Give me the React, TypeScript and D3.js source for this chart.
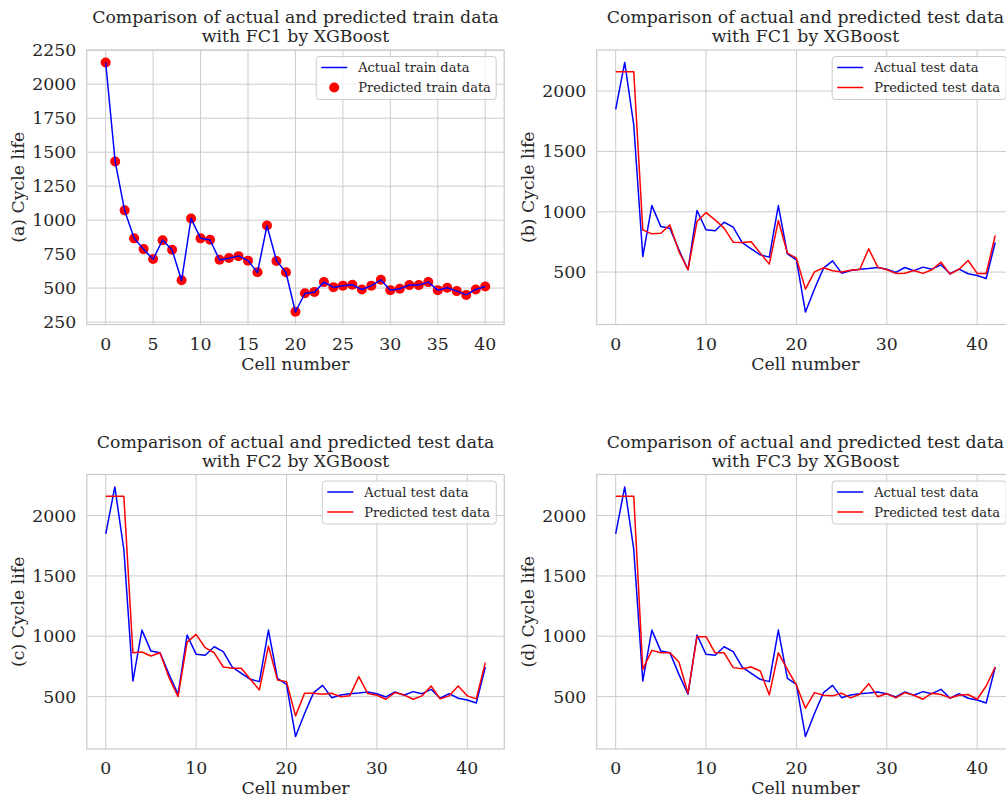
import React from 'react';
import * as d3 from 'd3';

// ---------- data ----------
const trainActual = [2160, 1430, 1070, 866, 785, 712, 854, 780, 556, 1012, 866, 854, 707, 720, 737, 702, 615, 959, 702, 615, 324, 462, 470, 544, 505, 518, 524, 490, 518, 561, 485, 495, 522, 522, 544, 485, 503, 478, 450, 490, 512];
const trainPredicted = [2160, 1432, 1072, 866, 787, 714, 852, 782, 558, 1012, 866, 856, 709, 722, 735, 702, 617, 961, 700, 617, 326, 462, 472, 544, 507, 518, 524, 490, 518, 561, 485, 495, 522, 522, 544, 485, 503, 478, 450, 490, 512];

const testActual = [1848, 2237, 1719, 629, 1051, 877, 864, 684, 519, 1010, 850, 842, 913, 872, 745, 693, 643, 624, 1051, 651, 602, 169, 360, 533, 593, 491, 513, 524, 530, 538, 524, 497, 538, 511, 541, 524, 560, 486, 524, 486, 472, 447, 745];
const predFC1 = [2160, 2160, 2160, 850, 817, 822, 891, 670, 519, 919, 993, 933, 864, 748, 745, 751, 657, 566, 927, 657, 615, 359, 502, 536, 511, 500, 516, 522, 693, 541, 519, 489, 491, 513, 489, 519, 582, 483, 524, 596, 489, 489, 803];
const predFC2 = [2160, 2160, 2160, 863, 869, 836, 863, 657, 500, 951, 1015, 905, 863, 745, 734, 734, 643, 555, 918, 638, 624, 340, 528, 528, 519, 528, 498, 506, 665, 525, 511, 478, 533, 514, 478, 506, 588, 481, 506, 588, 506, 481, 781];
const predFC3 = [2160, 2160, 2160, 726, 883, 863, 863, 786, 528, 996, 996, 863, 863, 740, 731, 745, 712, 514, 863, 726, 594, 404, 533, 511, 506, 528, 489, 519, 607, 498, 525, 489, 533, 511, 478, 528, 517, 489, 511, 517, 478, 588, 745];

const trainXTicks = [0, 5, 10, 15, 20, 25, 30, 35, 40];
const trainYTicks = [250, 500, 750, 1000, 1250, 1500, 1750, 2000, 2250];
const testXTicks = [0, 10, 20, 30, 40];
const testYTicks = [500, 1000, 1500, 2000];

const FONT = '"DejaVu Serif", serif';
const TEXT = '#262626';
const GRID = '#cccccc';
const FS = 17.3;

type Series = { values: number[]; color: string; kind: 'line' | 'dots'; label: string };

function extent(series: Series[]): [number, number] {
  const all = series.flatMap((s) => s.values);
  const lo = d3.min(all) as number;
  const hi = d3.max(all) as number;
  const m = (hi - lo) * 0.05;
  return [lo - m, hi + m];
}

function Panel(props: {
  id: string;
  left: number;
  top: number;
  width: number;
  height: number;
  title: string[];
  ylabel: string;
  xTicks: number[];
  yTicks: number[];
  series: Series[];
  legendWidth: number;
}) {
  const { id, left, top, width, height, title, ylabel, xTicks, yTicks, series, legendWidth } = props;
  const n = Math.max(...series.map((s) => s.values.length));
  const xm = (n - 1) * 0.05;
  const x = d3.scaleLinear().domain([-xm, n - 1 + xm]).range([left, left + width]);
  const y = d3.scaleLinear().domain(extent(series)).range([top + height, top]);
  const line = d3
    .line<number>()
    .x((_, i) => x(i))
    .y((d) => y(d));
  const cx = left + width / 2;
  const lgRight = left + width - 8;
  const lgLeft = lgRight - legendWidth;
  const lgTop = top + 6.5;
  return (
    <g>
      <defs>
        <clipPath id={id}>
          <rect x={left} y={top} width={width} height={height} />
        </clipPath>
      </defs>
      <rect x={left} y={top} width={width} height={height} fill="white" />
      {xTicks.map((t) => (
        <line key={'gx' + t} x1={x(t)} x2={x(t)} y1={top} y2={top + height} stroke={GRID} strokeWidth={1} />
      ))}
      {yTicks.map((t) => (
        <line key={'gy' + t} x1={left} x2={left + width} y1={y(t)} y2={y(t)} stroke={GRID} strokeWidth={1} />
      ))}
      <rect x={left} y={top} width={width} height={height} fill="none" stroke={GRID} strokeWidth={1.25} />
      <g clipPath={`url(#${id})`}>
        {series
          .filter((s) => s.kind === 'dots')
          .map((s) =>
            s.values.map((v, i) => <circle key={s.label + i} cx={x(i)} cy={y(v)} r={5} fill={s.color} />)
          )}
        {series
          .filter((s) => s.kind === 'line')
          .map((s) => (
            <path key={s.label} d={line(s.values) || ''} fill="none" stroke={s.color} strokeWidth={1.5} strokeLinejoin="round" />
          ))}
      </g>
      {xTicks.map((t) => (
        <text key={'tx' + t} x={x(t)} y={top + height + 25} textAnchor="middle" fontSize={FS} fill={TEXT} fontFamily={FONT}>
          {t}
        </text>
      ))}
      {yTicks.map((t) => (
        <text key={'ty' + t} x={left - 10.5} y={y(t) + 6} textAnchor="end" fontSize={FS} fill={TEXT} fontFamily={FONT}>
          {t}
        </text>
      ))}
      <text x={cx} y={top + height + 45} textAnchor="middle" fontSize={FS} fill={TEXT} fontFamily={FONT}>
        Cell number
      </text>
      <text
        transform={`translate(${left - 62.5},${top + height / 2}) rotate(-90)`}
        textAnchor="middle"
        fontSize={FS}
        fill={TEXT}
        fontFamily={FONT}
      >
        {ylabel}
      </text>
      <text x={cx} y={top - 26.7} textAnchor="middle" fontSize={FS} fill={TEXT} fontFamily={FONT}>
        {title[0]}
      </text>
      <text x={cx} y={top - 8} textAnchor="middle" fontSize={FS} fill={TEXT} fontFamily={FONT}>
        {title[1]}
      </text>
      <rect x={lgLeft} y={lgTop} width={legendWidth} height={43} rx={3} fill="white" fillOpacity={0.8} stroke={GRID} strokeWidth={1} />
      {series.map((s, i) => {
        const ry = lgTop + 11 + i * 20;
        return (
          <g key={'lg' + s.label}>
            {s.kind === 'line' ? (
              <line x1={lgLeft + 5} x2={lgLeft + 31} y1={ry} y2={ry} stroke={s.color} strokeWidth={1.5} />
            ) : (
              <circle cx={lgLeft + 18} cy={ry} r={5} fill={s.color} />
            )}
            <text x={lgLeft + 42} y={ry + 4.5} fontSize={13} fill={TEXT} fontFamily={FONT}>
              {s.label}
            </text>
          </g>
        );
      })}
    </g>
  );
}

export default function App() {
  const W = 417.5;
  const H = 274.5;
  return (
    <svg width={1006} height={801} style={{ position: 'absolute', left: 0, top: 0, background: 'white' }}>
      <rect x={0} y={0} width={1006} height={801} fill="white" />
      <Panel
        id="pa"
        left={86.7}
        top={50}
        width={W}
        height={H}
        title={['Comparison of actual and predicted train data', 'with FC1 by XGBoost']}
        ylabel="(a) Cycle life"
        xTicks={trainXTicks}
        yTicks={trainYTicks}
        legendWidth={180}
        series={[
          { values: trainActual, color: 'blue', kind: 'line', label: 'Actual train data' },
          { values: trainPredicted, color: 'red', kind: 'dots', label: 'Predicted train data' },
        ]}
      />
      <Panel
        id="pb"
        left={596.7}
        top={50}
        width={W}
        height={H}
        title={['Comparison of actual and predicted test data', 'with FC1 by XGBoost']}
        ylabel="(b) Cycle life"
        xTicks={testXTicks}
        yTicks={testYTicks}
        legendWidth={174}
        series={[
          { values: testActual, color: 'blue', kind: 'line', label: 'Actual test data' },
          { values: predFC1, color: 'red', kind: 'line', label: 'Predicted test data' },
        ]}
      />
      <Panel
        id="pc"
        left={86.8}
        top={474.5}
        width={W}
        height={H}
        title={['Comparison of actual and predicted test data', 'with FC2 by XGBoost']}
        ylabel="(c) Cycle life"
        xTicks={testXTicks}
        yTicks={testYTicks}
        legendWidth={174}
        series={[
          { values: testActual, color: 'blue', kind: 'line', label: 'Actual test data' },
          { values: predFC2, color: 'red', kind: 'line', label: 'Predicted test data' },
        ]}
      />
      <Panel
        id="pd"
        left={596.7}
        top={474.5}
        width={W}
        height={H}
        title={['Comparison of actual and predicted test data', 'with FC3 by XGBoost']}
        ylabel="(d) Cycle life"
        xTicks={testXTicks}
        yTicks={testYTicks}
        legendWidth={174}
        series={[
          { values: testActual, color: 'blue', kind: 'line', label: 'Actual test data' },
          { values: predFC3, color: 'red', kind: 'line', label: 'Predicted test data' },
        ]}
      />
    </svg>
  );
}
